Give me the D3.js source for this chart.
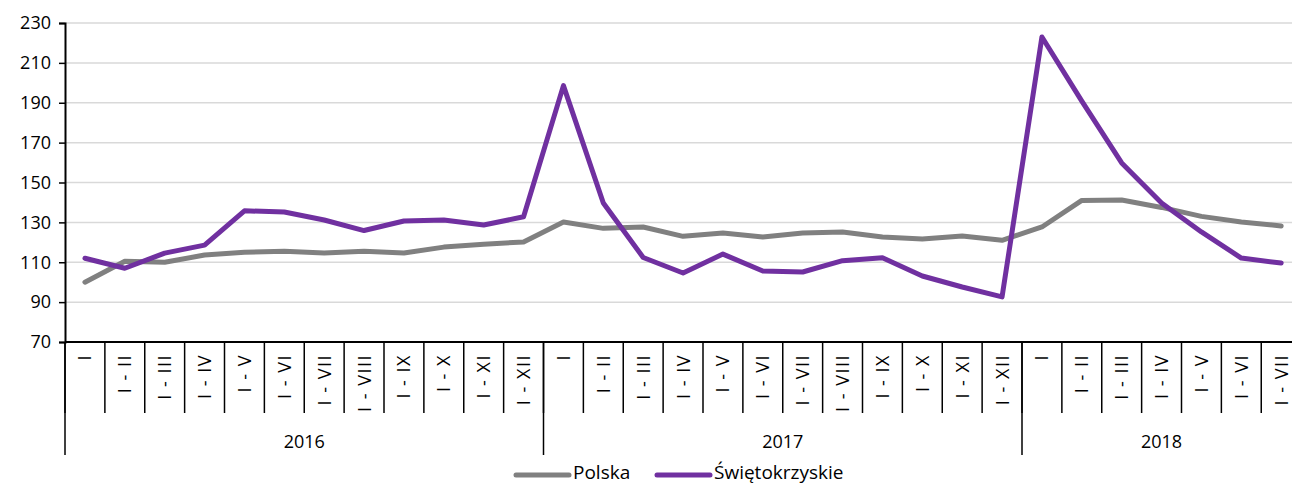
<!DOCTYPE html>
<html>
<head>
<meta charset="utf-8">
<script src="https://cdn.jsdelivr.net/npm/d3@7"></script>
<style>
    body { margin: 0; background: #fff; }
    svg { display: block; }
    text { font-family: "Open Sans", sans-serif; fill: #000; }
</style>
</head>
<body>
<div id="chart"></div>
<script>
// dane
const years = ["2016", "2017", "2018"];
const monthsPerYear = [12, 12, 7];
const periods = ["I", "I - II", "I - III", "I - IV", "I - V", "I - VI",
    "I - VII", "I - VIII", "I - IX", "I - X", "I - XI", "I - XII"];
const polska = [100, 110.5, 110, 113.6, 115, 115.5, 114.6, 115.5, 114.6, 117.6, 119, 120.2,
    130.2, 127, 127.7, 123, 124.7, 122.7, 124.7, 125.2, 122.7, 121.7, 123.2, 121,
    127.7, 141, 141.2, 137.5, 133, 130.2, 128.2];
const swietokrzyskie = [112, 107, 114.6, 118.6, 135.8, 135.2, 131.2, 125.9, 130.7, 131.2, 128.7, 132.8,
    198.6, 139.7, 112.4, 104.6, 114.1, 105.6, 105.1, 110.8, 112.3, 103.1, 97.6, 92.6,
    223, 190.8, 159.8, 139.7, 125.2, 112.1, 109.6];
const yTicks = [70, 90, 110, 130, 150, 170, 190, 210, 230];

const width = 1292, height = 484;
const plotLeft = 65, plotTop = 23, plotBottom = 342;
const band = 39.875;
const fontName = "Open Sans";

// kategorie (rok + okres)
var cats = [];
years.forEach(function (yr, i) {
    for (var m = 0; m < monthsPerYear[i]; m++) {
        cats.push({key: yr + "_" + m, year: yr, label: periods[m]});
    }
});

var svg = d3.select("#chart").append("svg")
    .attr("width", width).attr("height", height);

var x = d3.scaleBand()
    .domain(cats.map(d => d.key))
    .range([plotLeft, plotLeft + band * cats.length]);

var y = d3.scaleLinear().domain([70, 230]).range([plotBottom, plotTop]);

// siatka
svg.append("g")
    .selectAll("line")
    .data(yTicks.slice(1))
    .enter()
    .append("line")
    .attr("x1", plotLeft).attr("x2", x.range()[1])
    .attr("y1", d => y(d)).attr("y2", d => y(d))
    .attr("stroke", "#d9d9d9").attr("stroke-width", 1.5);

// oś Y
var yAxis = svg.append("g")
    .attr("transform", "translate(" + plotLeft + ",0)")
    .call(d3.axisLeft(y).tickValues(yTicks).tickSize(6).tickPadding(8));
yAxis.attr("font-family", fontName);
yAxis.selectAll("text").attr("font-size", 18).attr("fill", "#000");
yAxis.selectAll("line").attr("stroke", "#000").attr("stroke-width", 1.5);
yAxis.select(".domain").attr("stroke", "#000").attr("stroke-width", 2);

// oś X
var xg = svg.append("g").attr("font-family", fontName);
xg.append("line")
    .attr("x1", plotLeft).attr("x2", x.range()[1])
    .attr("y1", plotBottom).attr("y2", plotBottom)
    .attr("stroke", "#000").attr("stroke-width", 2);

xg.selectAll(".tick_m")
    .data(cats)
    .enter()
    .append("line")
    .attr("class", "tick_m")
    .attr("x1", d => x(d.key)).attr("x2", d => x(d.key))
    .attr("y1", plotBottom).attr("y2", 413)
    .attr("stroke", "#000").attr("stroke-width", 1.5);

xg.selectAll(".lab_m")
    .data(cats)
    .enter()
    .append("text")
    .attr("class", "lab_m")
    .attr("transform", d => "translate(" + (x(d.key) + x.bandwidth() / 2 + 6.5) + ",354) rotate(-90)")
    .attr("text-anchor", "end")
    .attr("font-size", 18)
    .attr("letter-spacing", 1.5)
    .text(d => d.label);

// granice lat
var yearStart = [];
var acc = 0;
years.forEach(function (yr, i) {
    yearStart.push({year: yr, x0: x(cats[acc].key), x1: x(cats[acc].key) + band * monthsPerYear[i]});
    acc += monthsPerYear[i];
});

xg.selectAll(".tick_y")
    .data(yearStart)
    .enter()
    .append("line")
    .attr("class", "tick_y")
    .attr("x1", d => d.x0).attr("x2", d => d.x0)
    .attr("y1", plotBottom).attr("y2", 455)
    .attr("stroke", "#000").attr("stroke-width", 1.5);

xg.selectAll(".lab_y")
    .data(yearStart)
    .enter()
    .append("text")
    .attr("class", "lab_y")
    .attr("x", d => (d.x0 + d.x1) / 2)
    .attr("y", 448)
    .attr("text-anchor", "middle")
    .attr("font-size", 18)
    .text(d => d.year);

// linie
var series = [
    {name: "Polska", values: polska, color: "#808080"},
    {name: "Świętokrzyskie", values: swietokrzyskie, color: "#7030a0"}
];

var line = d3.line()
    .x((d, i) => x(cats[i].key) + x.bandwidth() / 2)
    .y(d => y(d));

svg.append("g")
    .selectAll("path")
    .data(series)
    .enter()
    .append("path")
    .attr("d", d => line(d.values))
    .attr("fill", "none")
    .attr("stroke", d => d.color)
    .attr("stroke-width", 5)
    .attr("stroke-linejoin", "round")
    .attr("stroke-linecap", "round");

// legenda
var legend = svg.append("g").attr("font-family", fontName);
var legX = [516, 657];
series.forEach(function (s, i) {
    legend.append("line")
        .attr("x1", legX[i]).attr("x2", legX[i] + 53)
        .attr("y1", 475).attr("y2", 475)
        .attr("stroke", s.color).attr("stroke-width", 5)
        .attr("stroke-linecap", "round");
    legend.append("text")
        .attr("x", legX[i] + 57).attr("y", 479)
        .attr("font-size", 19)
        .text(s.name);
});
</script>
</body>
</html>
